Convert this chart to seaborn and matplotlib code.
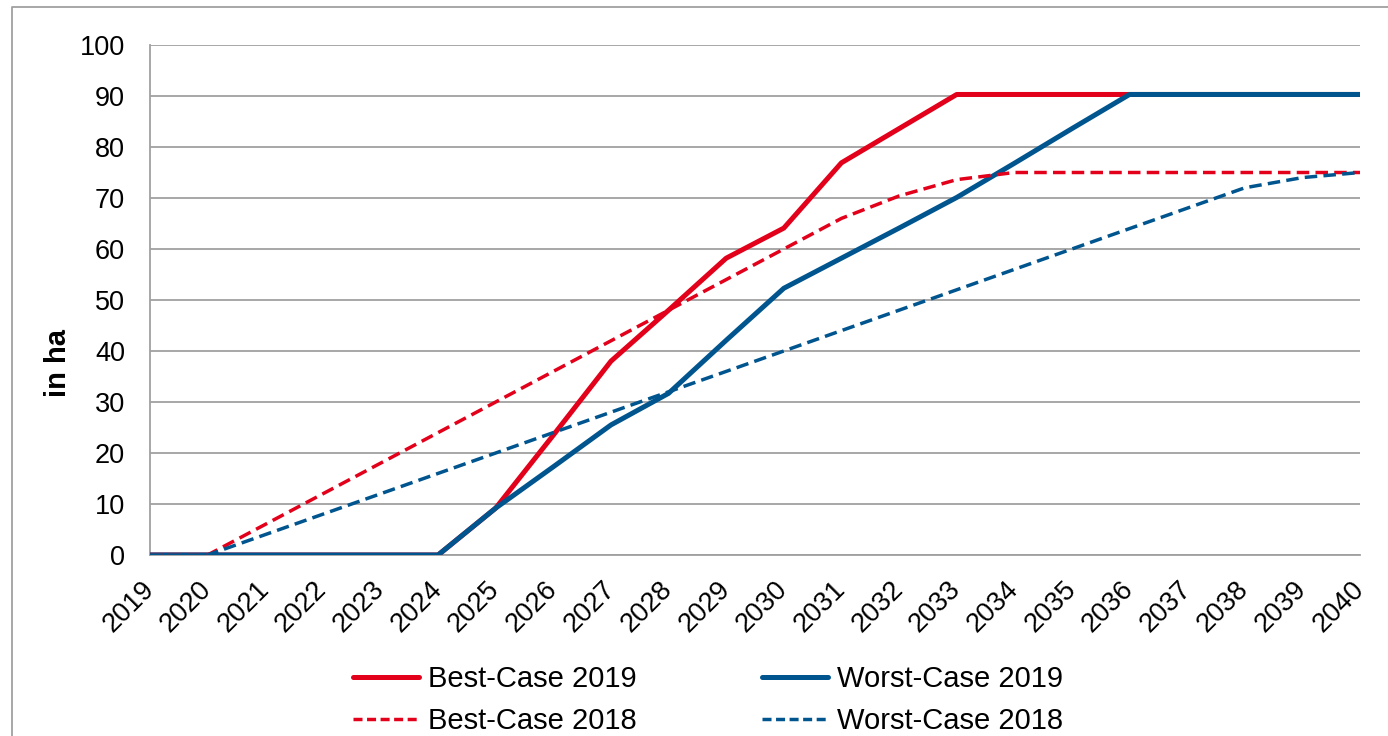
import pandas as pd
import numpy as np
import matplotlib
matplotlib.use("Agg")
import matplotlib.pyplot as plt
import seaborn as sns
from matplotlib.lines import Line2D

years = list(range(2019, 2041))
best_2019 = [0, 0, 0, 0, 0, 0, 9.2, 23.5, 38, 48, 58.2, 64.1, 76.9, 83.6, 90.3,
             90.3, 90.3, 90.3, 90.3, 90.3, 90.3, 90.3]
worst_2019 = [0, 0, 0, 0, 0, 0, 9.2, 17.3, 25.5, 31.7, 42.1, 52.3, 58.2, 64.1, 70.1,
              76.8, 83.6, 90.3, 90.3, 90.3, 90.3, 90.3]
best_2018 = [0, 0, 6, 12, 18, 24, 30, 36, 42, 48, 54, 60, 66, 70.4, 73.6,
             75, 75, 75, 75, 75, 75, 75]
worst_2018 = [0, 0, 4, 8, 12, 16, 20, 24, 28, 32, 36, 40, 44, 48, 52,
              56, 60, 64, 68, 72, 74, 75]

df = pd.DataFrame({"Jahr": years,
                   "Best-Case 2019": best_2019,
                   "Worst-Case 2019": worst_2019,
                   "Best-Case 2018": best_2018,
                   "Worst-Case 2018": worst_2018})

RED = "#E2001A"
BLUE = "#00558F"
GRID = "#A0A0A0"

sns.set_style("white")
plt.rcParams["font.family"] = ["Liberation Sans", "DejaVu Sans"]
plt.rcParams["text.color"] = "black"
plt.rcParams["axes.labelcolor"] = "black"

fig = plt.figure(figsize=(13.88, 7.36), dpi=100)
ax = fig.add_axes([150 / 1388, 1 - 555 / 736, 1210 / 1388, 510 / 736])

# Linien: durchgezogen = 2019, gestrichelt = 2018
series = [("Best-Case 2019", RED, 3.6, None),
          ("Worst-Case 2019", BLUE, 3.6, None),
          ("Best-Case 2018", RED, 2.5, (3.6, 1.8)),
          ("Worst-Case 2018", BLUE, 2.5, (3.6, 1.8))]
for name, col, lw, dash in series:
    sns.lineplot(data=df, x="Jahr", y=name, ax=ax, color=col, linewidth=lw,
                 label=name, legend=False, zorder=3)
    line = ax.lines[-1]
    if dash:
        line.set_dashes(dash)
    line.set_solid_capstyle("round")

ax.set_xlim(2019, 2040)
ax.set_ylim(0, 100)
ax.set_xticks(years)
ax.set_yticks(range(0, 101, 10))
ax.set_xticklabels([str(y) for y in years], rotation=45, ha="right",
                   va="center", rotation_mode="anchor")
ax.tick_params(axis="both", labelsize=19.5, labelcolor="black", color=GRID,
               length=8, width=1.3, direction="out")
ax.tick_params(axis="x", pad=14)
ax.tick_params(axis="y", pad=10)
ax.yaxis.grid(True, color=GRID, linewidth=1.3)
ax.set_axisbelow(True)
for s in ["top", "right"]:
    ax.spines[s].set_visible(False)
for s in ["left", "bottom"]:
    ax.spines[s].set_color(GRID)
    ax.spines[s].set_linewidth(1.3)
ax.set_xlabel("")
ax.set_ylabel("in ha", fontsize=21, fontweight="bold")
ax.yaxis.set_label_coords(-0.0645, 0.376)

handles = [Line2D([], [], color=RED, lw=3.6, solid_capstyle="round"),
           Line2D([], [], color=RED, lw=2.5, dashes=(2.6, 1.3)),
           Line2D([], [], color=BLUE, lw=3.6, solid_capstyle="round"),
           Line2D([], [], color=BLUE, lw=2.5, dashes=(2.6, 1.3))]
labels = ["Best-Case 2019", "Best-Case 2018", "Worst-Case 2019", "Worst-Case 2018"]
fig.legend(handles, labels, ncol=2, loc="center",
           bbox_to_anchor=(708 / 1388, 1 - 700 / 736),
           frameon=False, fontsize=21, handlelength=2.26, handletextpad=0.31,
           columnspacing=4.3, labelspacing=0.49, borderaxespad=0, borderpad=0)

fig.add_artist(Line2D([12 / 1388, 12 / 1388, 1.0], [0.0, 1 - 7 / 736, 1 - 7 / 736],
                      transform=fig.transFigure, color=GRID, lw=1.3))

fig.savefig("out.png", dpi=100)
